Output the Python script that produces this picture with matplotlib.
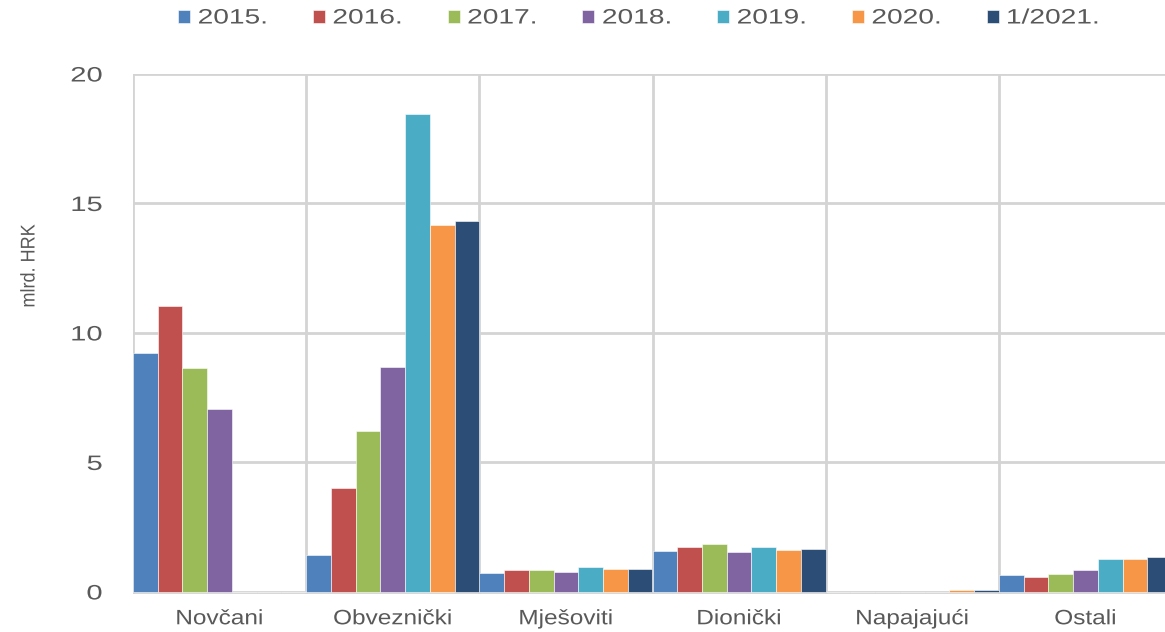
import numpy as np
import matplotlib
matplotlib.use("Agg")
import matplotlib.pyplot as plt
import matplotlib.patheffects as pe
from matplotlib.transforms import Affine2D

plt.rcParams['font.family'] = ['Liberation Sans', 'DejaVu Sans']

categories = ["Novčani", "Obveznički", "Mješoviti", "Dionički", "Napajajući", "Ostali"]
series_names = ["2015.", "2016.", "2017.", "2018.", "2019.", "2020.", "1/2021."]

# mlrd. HRK
v2015 = [9.23, 1.42, 0.73, 1.58, 0.0, 0.65]
v2016 = [11.06, 4.00, 0.83, 1.74, 0.0, 0.58]
v2017 = [8.64, 6.23, 0.83, 1.87, 0.0, 0.69]
v2018 = [7.05, 8.70, 0.78, 1.54, 0.0, 0.83]
v2019 = [0.0, 18.44, 0.95, 1.74, 0.0, 1.28]
v2020 = [0.0, 14.17, 0.90, 1.62, 0.09, 1.28]
v2021 = [0.0, 14.33, 0.90, 1.65, 0.09, 1.33]

colors = ["#4F81BD", "#C0504D", "#9BBB59", "#8064A2", "#4BACC6", "#F79646", "#2C4D75"]
txt = "#595959"
grid = "#D4D4D4"


class Stretch(pe.AbstractPathEffect):
    # the source picture was widened, so text glyphs look wide; mimic that
    def __init__(self, sx=1.0, sy=1.0, anchor="center"):
        super().__init__()
        self.sx, self.sy, self.anchor = sx, sy, anchor

    def draw_path(self, renderer, gc, tpath, affine, rgbFace=None):
        ext = tpath.get_extents()
        if self.anchor == "left":
            cx = ext.x0
        elif self.anchor == "right":
            cx = ext.x1
        else:
            cx = (ext.x0 + ext.x1) / 2
        t = Affine2D().translate(-cx, 0).scale(self.sx, self.sy).translate(cx, 0)
        renderer.draw_path(gc, tpath, t + affine, rgbFace)


series = [v2015, v2016, v2017, v2018, v2019, v2020, v2021]
n = len(series)
w = 1.0 / n
x = np.arange(len(categories))

fig = plt.figure(figsize=(11.65, 6.32), dpi=100)
ax = fig.add_axes([133 / 1165, 1 - 594 / 632, (1172 - 133) / 1165, 520 / 632])

for i, (vals, name) in enumerate(zip(series, series_names)):
    ax.bar(x - 0.5 + w * (i + 0.5), vals, width=w, color=colors[i],
           edgecolor="white", linewidth=0.4, label=name, zorder=3)

ax.set_xlim(-0.5, len(categories) - 0.5)
ax.set_ylim(-0.08, 20)
ax.set_yticks([0, 5, 10, 15, 20])
ax.set_xticks(x)
ax.set_xticklabels(categories)

# gridlines: horizontal at major ticks, vertical at category boundaries
for yv in [0, 5, 10, 15, 20]:
    ax.axhline(yv, color=grid, lw=2, zorder=1)
for xv in np.arange(-0.5, len(categories), 1.0):
    ax.axvline(xv, color=grid, lw=2, zorder=1)

for s in ax.spines.values():
    s.set_visible(False)

ax.tick_params(axis='both', length=0, colors=txt)
ax.tick_params(axis='y', pad=22, labelsize=15)
ax.tick_params(axis='x', pad=11, labelsize=15)
plt.setp(ax.get_xticklabels(), path_effects=[Stretch(1.17)])
plt.setp(ax.get_yticklabels(), path_effects=[Stretch(1.4, anchor="right")])

fig.text(30 / 1165, 1 - 266 / 632, "mlrd. HRK", rotation=90, color=txt,
         fontsize=13, ha='center', va='center',
         path_effects=[Stretch(1.0, 1.1)])

leg = fig.legend(loc='center left', bbox_to_anchor=(178 / 1165, 1 - 18 / 632), ncol=n,
                 frameon=False, fontsize=15, handlelength=0.58, handleheight=0.58,
                 handletextpad=0.38, columnspacing=3.0, borderpad=0, borderaxespad=0,
                 labelcolor=txt)
for t in leg.get_texts():
    t.set_path_effects([Stretch(1.35, anchor="left")])

fig.savefig("out.png", dpi=100)
